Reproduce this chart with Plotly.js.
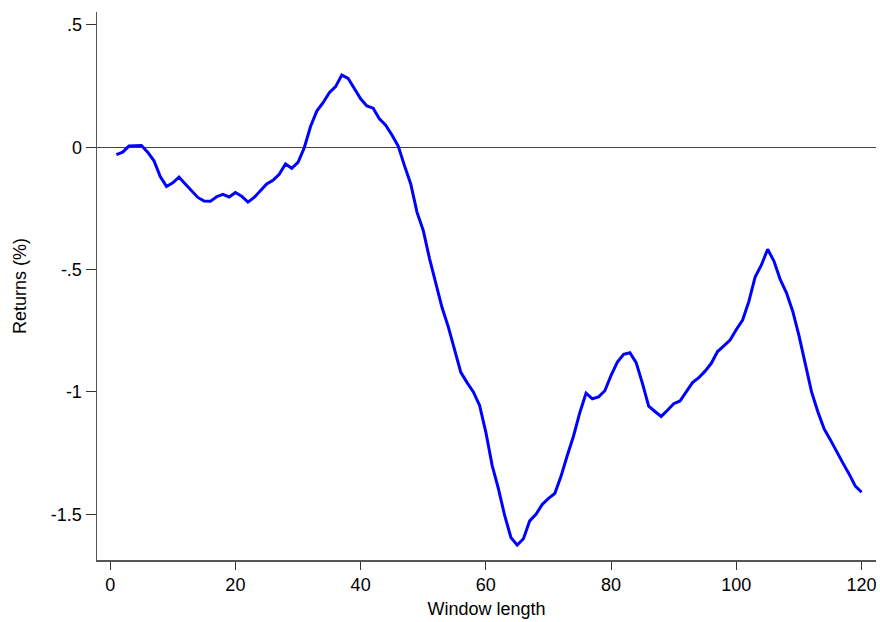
<!DOCTYPE html>
<html>
<head>
<meta charset="utf-8">
<script src="https://cdn.plot.ly/plotly-3.0.1.min.js"></script>
<style>html,body{margin:0;padding:0;background:#fff;}#chart{width:880px;height:622px;}</style>
</head>
<body>
<div id="chart"></div>
<script>
const windowLength = [];
for (let i = 1; i <= 120; i++) windowLength.push(i);
const returnsPct = [
 -0.030, -0.020, 0.005, 0.006, 0.007, -0.020, -0.055, -0.120, -0.160, -0.145,
 -0.122, -0.150, -0.178, -0.205, -0.220, -0.221, -0.202, -0.192, -0.203, -0.185,
 -0.200, -0.224, -0.205, -0.178, -0.150, -0.135, -0.110, -0.068, -0.086, -0.062,
 -0.002, 0.085, 0.148, 0.182, 0.223, 0.248, 0.295, 0.282, 0.238, 0.198,
 0.169, 0.160, 0.116, 0.090, 0.050, 0.005, -0.075, -0.150, -0.265, -0.340,
 -0.455, -0.555, -0.655, -0.734, -0.830, -0.920, -0.962, -1.000, -1.055, -1.165,
 -1.300, -1.395, -1.505, -1.595, -1.626, -1.600, -1.527, -1.500, -1.460, -1.435,
 -1.415, -1.345, -1.260, -1.180, -1.085, -1.005, -1.028, -1.020, -0.995, -0.932,
 -0.878, -0.846, -0.840, -0.880, -0.965, -1.058, -1.080, -1.100, -1.075, -1.048,
 -1.037, -1.000, -0.962, -0.942, -0.915, -0.883, -0.835, -0.812, -0.788, -0.745,
 -0.706, -0.630, -0.530, -0.481, -0.417, -0.465, -0.540, -0.595, -0.670, -0.770,
 -0.880, -0.999, -1.080, -1.150, -1.195, -1.244, -1.290, -1.335, -1.385, -1.410
];
const xTickVals = [0, 20, 40, 60, 80, 100, 120];
const yTickVals = [0.5, 0, -0.5, -1, -1.5];
const yTickText = [".5", "0", "-.5", "-1", "-1.5"];

const trace = {
  x: windowLength, y: returnsPct, type: 'scatter', mode: 'lines',
  line: {color: '#0000ff', width: 3}, hoverinfo: 'skip'
};
const font = {family: 'Liberation Sans, Arial, sans-serif', size: 18, color: '#000'};
const layout = {
  width: 880, height: 622,
  margin: {l: 97, r: 4, t: 12, b: 62},
  paper_bgcolor: '#fff', plot_bgcolor: '#fff',
  showlegend: false,
  font: font,
  xaxis: {
    range: [-2.1, 122.3], tickvals: xTickVals, ticks: 'outside', ticklen: 8,
    tickcolor: '#333', showline: true, linecolor: '#555', linewidth: 1.5,
    showgrid: false, zeroline: false, tickfont: font, automargin: false,
    title: {text: 'Window length', font: font, standoff: 8}
  },
  yaxis: {
    range: [-1.687, 0.553], tickvals: yTickVals, ticktext: yTickText,
    ticks: 'outside', ticklen: 10, tickcolor: '#333',
    showline: true, linecolor: '#555', linewidth: 1.5,
    showgrid: false, zeroline: true, zerolinecolor: '#444', zerolinewidth: 1,
    tickfont: font, automargin: false,
    title: {text: 'Returns (%)', font: font, standoff: 19}
  }
};
Plotly.newPlot('chart', [trace], layout, {displayModeBar: false, staticPlot: true});
</script>
</body>
</html>
